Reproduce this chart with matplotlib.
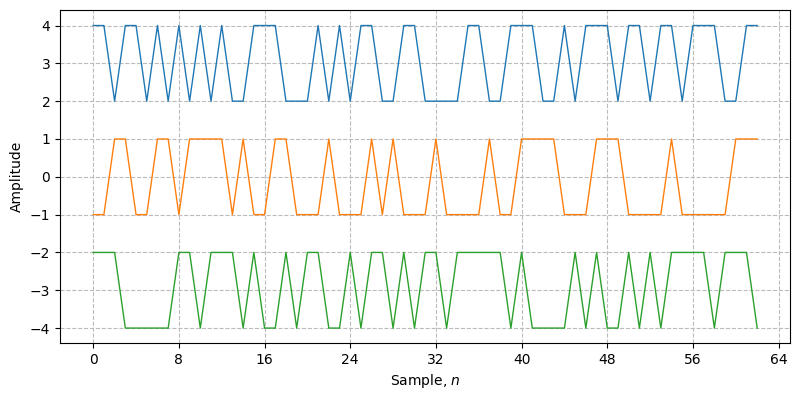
import matplotlib.pyplot as plt
import numpy as np
from matplotlib.ticker import MultipleLocator

# Three symbol streams, already offset to their display levels
blue = [4, 4, 2, 4, 4, 2, 4, 2, 4, 2, 4, 2, 4, 2, 2, 4, 4, 4, 2, 2, 2,
        4, 2, 4, 2, 4, 4, 2, 2, 4, 4, 2, 2, 2, 2, 4, 4, 2, 2, 4, 4, 4,
        2, 2, 4, 2, 4, 4, 4, 2, 4, 4, 2, 4, 4, 2, 4, 4, 4, 2, 2, 4, 4]
orange = [-1, -1, 1, 1, -1, -1, 1, 1, -1, 1, 1, 1, 1, -1, 1, -1, -1, 1, 1, -1, -1,
          -1, 1, -1, -1, -1, 1, -1, 1, -1, -1, -1, 1, -1, -1, -1, -1, 1, -1, -1, 1, 1,
          1, 1, -1, -1, -1, 1, 1, 1, -1, -1, -1, -1, 1, -1, -1, -1, -1, -1, 1, 1, 1]
green = [-2, -2, -2, -4, -4, -4, -4, -4, -2, -2, -4, -2, -2, -2, -4, -2, -4, -4, -2, -4, -2,
         -2, -4, -4, -2, -4, -2, -2, -4, -2, -4, -2, -2, -4, -2, -2, -2, -2, -2, -4, -2, -4,
         -4, -4, -4, -2, -4, -2, -4, -4, -2, -4, -2, -4, -2, -2, -2, -2, -4, -2, -2, -2, -4]

n = np.arange(len(blue))

fig, ax = plt.subplots(figsize=(8, 4), dpi=100)
ax.plot(n, blue, linewidth=1)
ax.plot(n, orange, linewidth=1)
ax.plot(n, green, linewidth=1)

ax.xaxis.set_major_locator(MultipleLocator(8))
ax.set_xlabel("Sample, $n$")
ax.set_ylabel("Amplitude")
ax.grid(True, linestyle="--", color="#bbbbbb", linewidth=0.8)

fig.subplots_adjust(left=0.075, right=0.988, top=0.974, bottom=0.142)
fig.savefig("out.png", dpi=100)
